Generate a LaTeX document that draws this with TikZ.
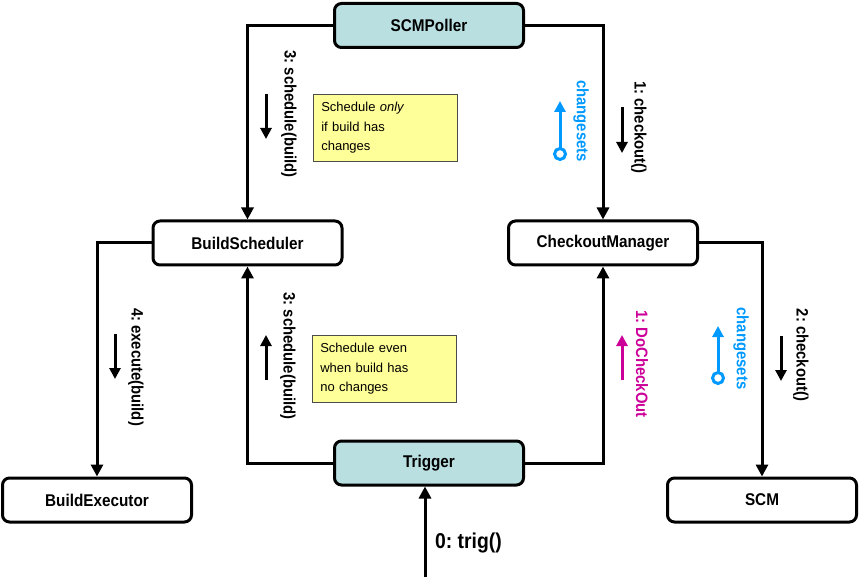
\documentclass[tikz,border=0pt]{standalone}
\usepackage{fontspec}
\setmainfont{Liberation Sans}
\newfontfamily\narrowfont[FakeStretch=0.9]{Liberation Sans}
\usetikzlibrary{arrows.meta}
\definecolor{teal1}{HTML}{B9DFE1}
\definecolor{note}{HTML}{FFFF99}
\definecolor{cblue}{HTML}{0099FF}
\definecolor{cmag}{HTML}{CC0099}
\tikzset{
  box/.style={draw=black, line width=3pt, rounded corners=7pt, fill=white,
    minimum width=189pt, minimum height=44pt, inner sep=0pt,
    font=\narrowfont\fontsize{17}{20}\selectfont\bfseries},
  tbox/.style={box, fill=teal1},
  conn/.style={line width=3pt, -{Triangle[width=12pt,length=12pt]}},
  small/.style={line width=3pt, -{Triangle[width=11pt,length=11pt]}},
  lab/.style={rotate=-90, inner sep=0pt, font=\narrowfont\fontsize{16.5}{19}\selectfont\bfseries},
  notebox/.style={draw=black!70, line width=0.6pt, fill=note, align=left, anchor=north west,
    text width=128pt, minimum height=67pt, inner xsep=8pt, inner ysep=5pt,
    font=\fontsize{13}{19.5}\selectfont},
  blu/.style={cblue, line width=3pt},
}
\frenchspacing
\begin{document}
\frenchspacing
\begin{tikzpicture}[x=1pt,y=-1pt]
\useasboundingbox (0,0) rectangle (860,588);
% boxes
\node[tbox] (poller) at (429,25.5) {SCMPoller};
\node[box] (sched) at (247.5,243) {BuildScheduler};
\node[box] (check) at (603,243) {CheckoutManager};
\node[box] (exec) at (97,500) {BuildExecutor};
\node[box] (scm) at (762,500) {SCM};
\node[tbox] (trig) at (429,463) {Trigger};
% connectors
\draw[conn] (poller.west) -| (sched.north);
\draw[conn] (poller.east) -| (check.north);
\draw[conn] (sched.west) -| (exec.north);
\draw[conn] (check.east) -| (scm.north);
\draw[conn] (trig.west) -| (sched.south);
\draw[conn] (trig.east) -| (check.south);
\coordinate (trigin) at (425,577);
\draw[conn] (trigin) -- (trigin |- trig.south);
\node[font=\narrowfont\fontsize{21.5}{24}\selectfont\bfseries, inner sep=0pt] (trigl) at (468.5,543) {0: trig()};
% notes
\node[notebox] (note1) at (313,94) {Schedule \textit{only}\\if build has\\changes};
\node[notebox] (note2) at (312,335) {Schedule even\\when build has\\no changes};
% upper labels
\node[lab] (l1) at (289,114) {3: schedule(build)};
\draw[small] (266,94) -- (266,139);
\node[lab, cblue] (l2) at (581,121) {changesets};
\draw[blu, fill=white] (560,154) circle (5.5pt);
\draw[blu, -{Triangle[width=11pt,length=11pt]}] (560,148.5) -- (560,101);
\node[lab] (l3) at (639,127.5) {1: checkout()};
\draw[small] (622,107) -- (622,153);
% lower labels
\node[lab] (l4) at (136,367) {4: execute(build)};
\draw[small] (115,334) -- (115,379);
\node[lab] (l5) at (288,356) {3: schedule(build)};
\draw[small] (266,380) -- (266,335);
\node[lab, cmag] (l6) at (642,364) {1: DoCheckOut};
\draw[small, cmag] (622,380) -- (622,335);
\node[lab, cblue] (l7) at (741,348.5) {changesets};
\draw[blu, fill=white] (718,378) circle (5.5pt);
\draw[blu, -{Triangle[width=11pt,length=11pt]}] (718,372.5) -- (718,326);
\node[lab] (l8) at (801,355) {2: checkout()};
\draw[small] (781,336) -- (781,381);
\end{tikzpicture}
\end{document}
